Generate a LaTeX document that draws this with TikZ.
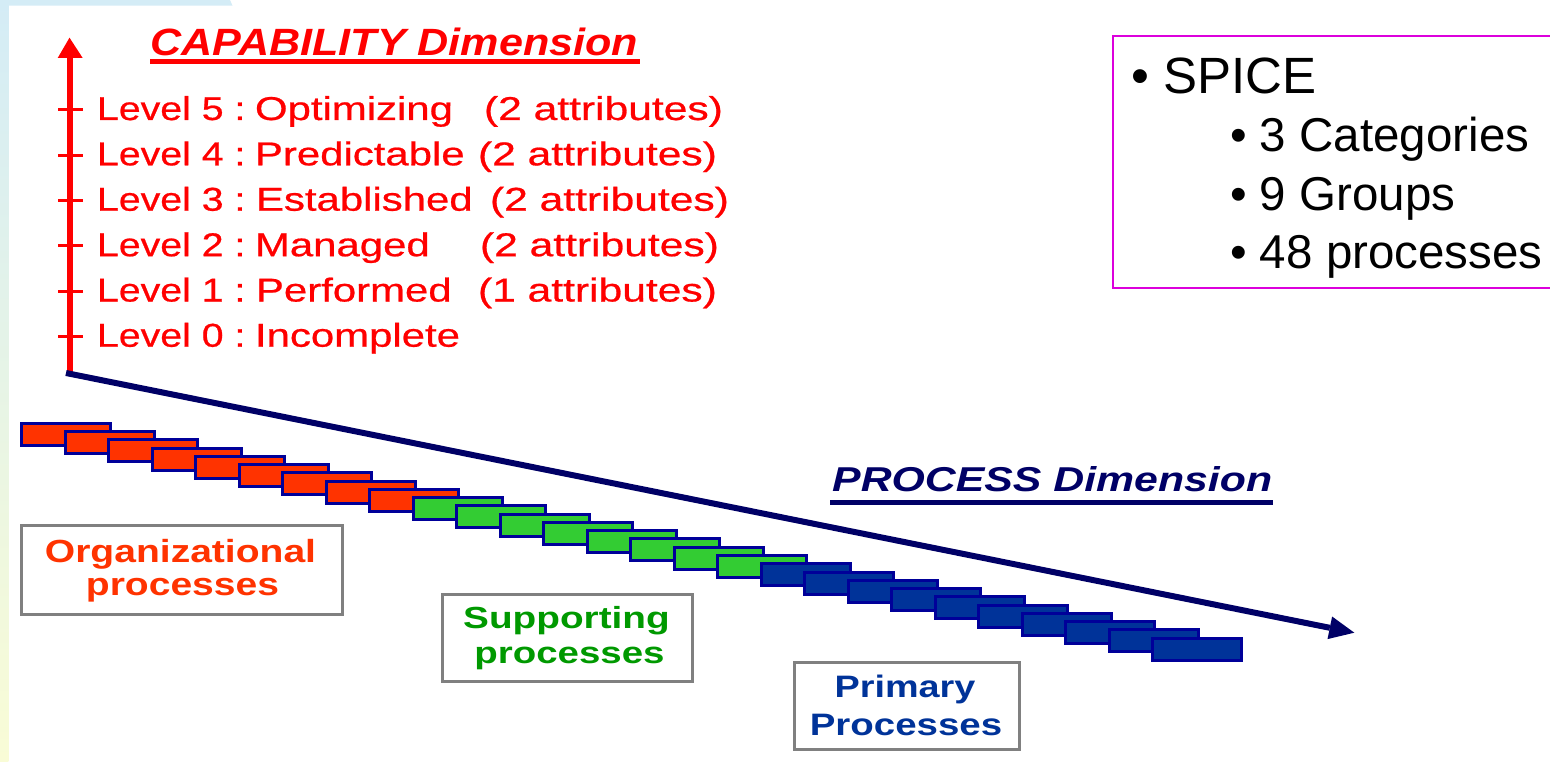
\documentclass[tikz,border=0pt]{standalone}
\usepackage{graphicx}
\usepackage{fontspec}
\setmainfont{Liberation Sans}
\newfontfamily\lvlfont[FakeBold=0.6]{Liberation Sans}
\usetikzlibrary{calc}
\definecolor{capred}{RGB}{255,0,0}
\definecolor{navy}{RGB}{0,0,102}
\definecolor{orgred}{RGB}{255,51,0}
\definecolor{supgreen}{RGB}{51,204,51}
\definecolor{supgreentxt}{RGB}{0,153,0}
\definecolor{primblue}{RGB}{0,51,153}
\definecolor{boxborder}{RGB}{0,0,153}
\definecolor{framegray}{RGB}{128,128,128}
\definecolor{spicemag}{RGB}{220,0,220}
\definecolor{bgtop}{RGB}{212,236,246}
\definecolor{bgmid}{RGB}{232,245,232}
\definecolor{bgbot}{RGB}{249,252,214}
\newcommand{\fitw}[2]{\resizebox{#1}{\height}{#2}}
\newcommand{\xs}[2]{\scalebox{#1}[1]{#2}}
\begin{document}
\begin{tikzpicture}[x=1pt,y=-1pt,
  lvl/.style={anchor=base west, inner sep=0pt, outer sep=0pt, text=capred, font=\lvlfont\fontsize{33}{38}\selectfont},
  procbox/.style={draw=boxborder, line width=3pt, minimum width=89pt, minimum height=22pt, inner sep=0pt, outer sep=0pt},
  labelframe/.style={draw=framegray, line width=3pt, fill=white, inner sep=0pt},
  labeltxt/.style={anchor=base, inner sep=0pt, font=\bfseries\fontsize{32}{32}\selectfont},
  spicetxt/.style={anchor=base west, inner sep=0pt, font=\fontsize{47.5}{50}\selectfont},
  dimtxt/.style={anchor=base west, inner sep=0pt, font=\bfseries\itshape\fontsize{38}{40}\selectfont},
  tick/.style={draw=capred, line width=3pt}
]
\useasboundingbox (0,0) rectangle (1550,762);
\fill[white] (0,0) rectangle (1550,762);
% background strips
\shade[top color=bgtop, middle color=bgmid, bottom color=bgbot] (0,0) rectangle (8.3,762);
\fill[bgtop] (0,0) -- (230,0) -- (232.5,5.7) -- (0,5.7) -- cycle;

% SPICE box
\draw[spicemag, line width=1.7pt] (1555,35.7) -- (1113.3,35.7) -- (1113.3,287.7) -- (1555,287.7);
\node[spicetxt, font=\fontsize{51}{52}\selectfont] (spice) at (1131,94) {• SPICE};
\node[spicetxt] (cat) at (1230,152) {• 3 Categories};
\node[spicetxt] (grp) at (1230,211) {• 9 Groups};
\node[spicetxt] (prc) at (1230,268) {• 48 processes};

% capability axis
\coordinate (O) at (69.5,372);
\coordinate (capbase) at (69.5,57);
\coordinate (captip) at (69.5,37.7);
\draw[capred, line width=6pt] (O) -- (capbase);
\fill[capred] (57.7,58) -- (captip) -- (82.7,58) -- cycle;
\foreach \k/\yy in {5/110,4/155.3,3/200.6,2/245.9,1/291.2,0/336.5} {
  \coordinate (tl\k) at (58,\yy);
  \coordinate (tr\k) at (83,\yy);
  \draw[tick] (tl\k) -- (tr\k);
}

% capability title
\node[dimtxt, text=capred] (captitle) at (150,56) {\fitw{488pt}{CAPABILITY Dimension}};
\fill[capred] (150,59.5) rectangle (640,64.5);

% level texts
\node[lvl] (l5a) at (97,120) {\xs{1.19}{Level 5 :}};
\node[lvl] (l4a) at (97,165.3) {\xs{1.19}{Level 4 :}};
\node[lvl] (l3a) at (97,210.7) {\xs{1.19}{Level 3 :}};
\node[lvl] (l2a) at (97,256.2) {\xs{1.19}{Level 2 :}};
\node[lvl] (l1a) at (97,301.5) {\xs{1.19}{Level 1 :}};
\node[lvl] (l0a) at (97,346.7) {\xs{1.19}{Level 0 :}};
\node[lvl] (l5b) at (255,120) {\xs{1.27}{Optimizing}};
\node[lvl] (l4b) at (255,165.3) {\xs{1.27}{Predictable}};
\node[lvl] (l3b) at (256,210.7) {\xs{1.27}{Established}};
\node[lvl] (l2b) at (255,256.2) {\xs{1.27}{Managed}};
\node[lvl] (l1b) at (256,301.5) {\xs{1.27}{Performed}};
\node[lvl] (l0b) at (255,346.7) {\xs{1.27}{Incomplete}};
\node[lvl] (l5c) at (484,120) {\xs{1.29}{(2 attributes)}};
\node[lvl] (l4c) at (478,165.3) {\xs{1.29}{(2 attributes)}};
\node[lvl] (l3c) at (490,210.7) {\xs{1.29}{(2 attributes)}};
\node[lvl] (l2c) at (480,256.2) {\xs{1.29}{(2 attributes)}};
\node[lvl] (l1c) at (478,301.5) {\xs{1.29}{(1 attributes)}};

% process boxes
\foreach \i in {0,...,8} {
  \node[procbox, fill=orgred] (b\i) at ({66+43.5*\i},{434.2+8.27*\i}) {};
}
\foreach \i in {9,...,16} {
  \node[procbox, fill=supgreen] (b\i) at ({66+43.5*\i},{434.2+8.27*\i}) {};
}
\foreach \i in {17,...,26} {
  \node[procbox, fill=primblue] (b\i) at ({66+43.5*\i},{434.2+8.27*\i}) {};
}

% process axis
\coordinate (P0) at (66,373);
\coordinate (pbase) at (1329.8,627.8);
\coordinate (ptip) at (1354.3,632.7);
\draw[navy, line width=6pt] (P0) -- (pbase);
\fill[navy] (1332.1,616.5) -- (ptip) -- (1327.5,639.1) -- cycle;

% process title
\node[dimtxt, text=navy, font=\bfseries\itshape\fontsize{34.5}{36}\selectfont] (proctitle) at (832,491.7) {\fitw{440pt}{PROCESS Dimension}};
\fill[navy] (830,500) rectangle (1273,505);

% label frames
\node[labelframe, minimum width=321pt, minimum height=89pt] (orgframe) at (182,570) {};
\node[labeltxt, text=orgred] (org1) at (180.5,562.5) {\xs{1.22}{Organizational}};
\node[labeltxt, text=orgred] (org2) at (182.5,595) {\xs{1.22}{processes}};

\node[labelframe, minimum width=250pt, minimum height=87pt] (supframe) at (567.5,637.7) {};
\node[labeltxt, text=supgreentxt, font=\bfseries\fontsize{30.5}{30}\selectfont] (sup1) at (566.5,628.3) {\xs{1.27}{Supporting}};
\node[labeltxt, text=supgreentxt, font=\bfseries\fontsize{30.5}{30}\selectfont] (sup2) at (569.5,663.3) {\xs{1.26}{processes}};

\node[labelframe, minimum width=225pt, minimum height=86.7pt] (primframe) at (906.8,705.9) {};
\node[labeltxt, text=primblue, font=\bfseries\fontsize{31}{31}\selectfont] (prim1) at (905,697.3) {\xs{1.22}{Primary}};
\node[labeltxt, text=primblue, font=\bfseries\fontsize{31}{31}\selectfont] (prim2) at (906,735) {\xs{1.24}{Processes}};
\end{tikzpicture}
\end{document}
